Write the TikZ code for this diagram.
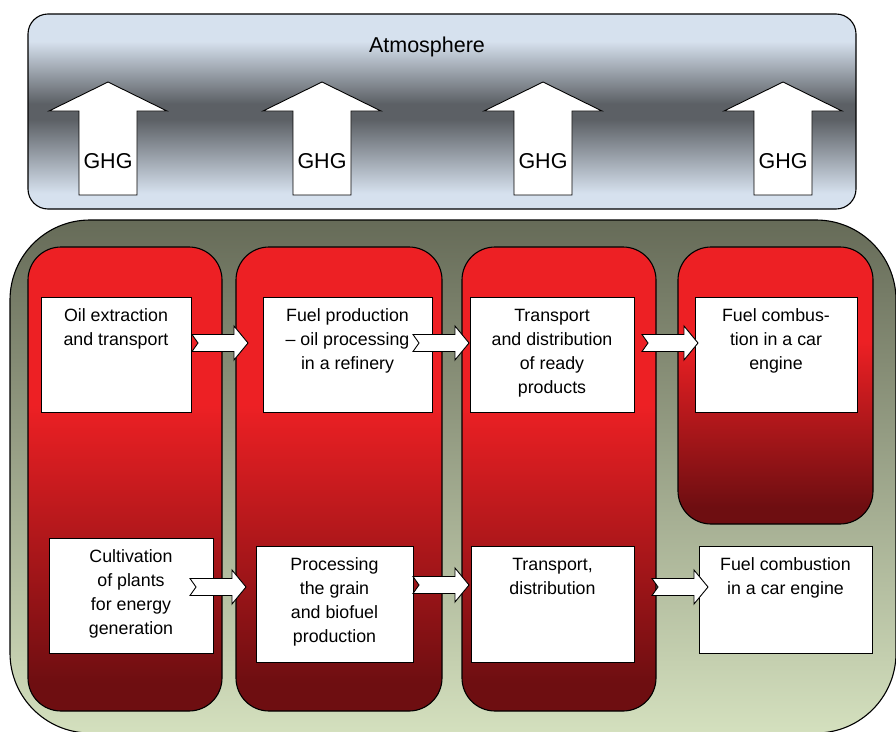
\documentclass[tikz,border=0pt]{standalone}
\usepackage{fontspec}
\setmainfont{Liberation Sans}
\usetikzlibrary{calc}
\definecolor{atmL}{HTML}{D6E1EE}
\definecolor{atmD}{HTML}{5C6065}
\definecolor{grnT}{HTML}{666B58}
\definecolor{grnB}{HTML}{D4E0BE}
\definecolor{redB}{HTML}{ED2024}
\definecolor{redD}{HTML}{6E0E11}
\pgfdeclareverticalshading{atmshade}{100bp}{color(0bp)=(atmL); color(29bp)=(atmL); color(48bp)=(atmD); color(52bp)=(atmD); color(68bp)=(atmL); color(100bp)=(atmL)}
\pgfdeclareverticalshading{redshade}{100bp}{color(0bp)=(redD); color(28bp)=(redD); color(58bp)=(redB); color(100bp)=(redB)}
\begin{document}
\begin{tikzpicture}[x=1pt,y=-1pt,
  atmbox/.style={draw=black, line width=1.1pt, rounded corners=20pt, shading=atmshade, inner sep=0pt},
  grnbox/.style={draw=black, line width=1.1pt, rounded corners=80pt, top color=grnT, bottom color=grnB, inner sep=0pt},
  colbox/.style={draw=black, line width=1.1pt, rounded corners=33pt, shading=redshade, inner sep=0pt},
  wbox/.style={draw=black, line width=0.9pt, fill=white, inner sep=0pt},
  txt/.style={inner sep=0pt, anchor=north, align=center, font=\fontsize{17.8}{24}\selectfont},
  bigtxt/.style={inner sep=0pt, anchor=base, font=\fontsize{21.5}{26}\selectfont},
  ghgup/.pic={
    \draw[fill=white, line width=0.9pt] (-29,0) -- (-29,-84) -- (-59,-84) -- (0,-113) -- (59,-84) -- (29,-84) -- (29,0) -- cycle;
    \node[bigtxt] (-txt) at (0,-27) {GHG};
  },
  notched/.pic={
    \draw[fill=white, line width=0.9pt] (0,-8.5) -- (42,-8.5) -- (42,-17) -- (56,0) -- (42,17) -- (42,8.5) -- (0,8.5) -- (6,0) -- cycle;
  }
]
\useasboundingbox (0,0) rectangle (896,731);

% atmosphere
\node[atmbox, minimum width=828pt, minimum height=195pt] (atm) at (442,111.5) {};
\node[bigtxt] (atmtxt) at (427,52) {Atmosphere};
\pic (g1) at (108,195) {ghgup};
\pic (g2) at (322,195) {ghgup};
\pic (g3) at (543,195) {ghgup};
\pic (g4) at (783,195) {ghgup};

% ground
\node[grnbox, minimum width=886pt, minimum height=513pt] (grn) at (453,476.5) {};

% columns
\node[colbox, minimum width=194pt, minimum height=464pt] (c1) at (125,479) {};
\node[colbox, minimum width=206pt, minimum height=464pt] (c2) at (339,479) {};
\node[colbox, minimum width=194pt, minimum height=464pt] (c3) at (559,479) {};
\node[colbox, minimum width=195pt, minimum height=277pt] (c4) at (775.5,385.5) {};

% white boxes
\node[wbox, minimum width=150pt, minimum height=115pt] (b1) at (116,354.5) {};
\node[wbox, minimum width=169pt, minimum height=115pt] (b2) at (347.5,354.5) {};
\node[wbox, minimum width=164pt, minimum height=115pt] (b3) at (552,354.5) {};
\node[wbox, minimum width=162pt, minimum height=115pt] (b4) at (776,354.5) {};
\node[wbox, minimum width=164pt, minimum height=115pt] (b5) at (131,595.5) {};
\node[wbox, minimum width=157pt, minimum height=116pt] (b6) at (334.5,604) {};
\node[wbox, minimum width=163pt, minimum height=116pt] (b7) at (552.5,604) {};
\node[wbox, minimum width=173pt, minimum height=107pt] (b8) at (785.5,599.5) {};

% texts
\node[txt] (t1) at ($(b1.north)+(0,8.2)$) {\strut Oil extraction\\and transport};
\node[txt] (t2) at ($(b2.north)+(0,8.2)$) {\strut Fuel production\\– oil processing\\in a refinery};
\node[txt] (t3) at ($(b3.north)+(0,8.2)$) {\strut Transport\\and distribution\\of ready\\products};
\node[txt] (t4) at ($(b4.north)+(0,8.2)$) {\strut Fuel combus-\\tion in a car\\engine};
\node[txt] (t5) at ($(b5.north)+(0,8.2)$) {\strut Cultivation\\of plants\\for energy\\generation};
\node[txt] (t6) at ($(b6.north)+(0,8.2)$) {\strut Processing\\the grain\\and biofuel\\production};
\node[txt] (t7) at ($(b7.north)+(0,8.2)$) {\strut Transport,\\distribution};
\node[txt] (t8) at ($(b8.north)+(0,8.2)$) {\strut Fuel combustion\\in a car engine};

% chevron arrows
\pic (a1) at (192,343) {notched};
\pic (a2) at (413,343) {notched};
\pic (a3) at (642,343) {notched};
\pic (a4) at (190,587) {notched};
\pic (a5) at (413,585) {notched};
\pic (a6) at (652,587) {notched};
\end{tikzpicture}
\end{document}
